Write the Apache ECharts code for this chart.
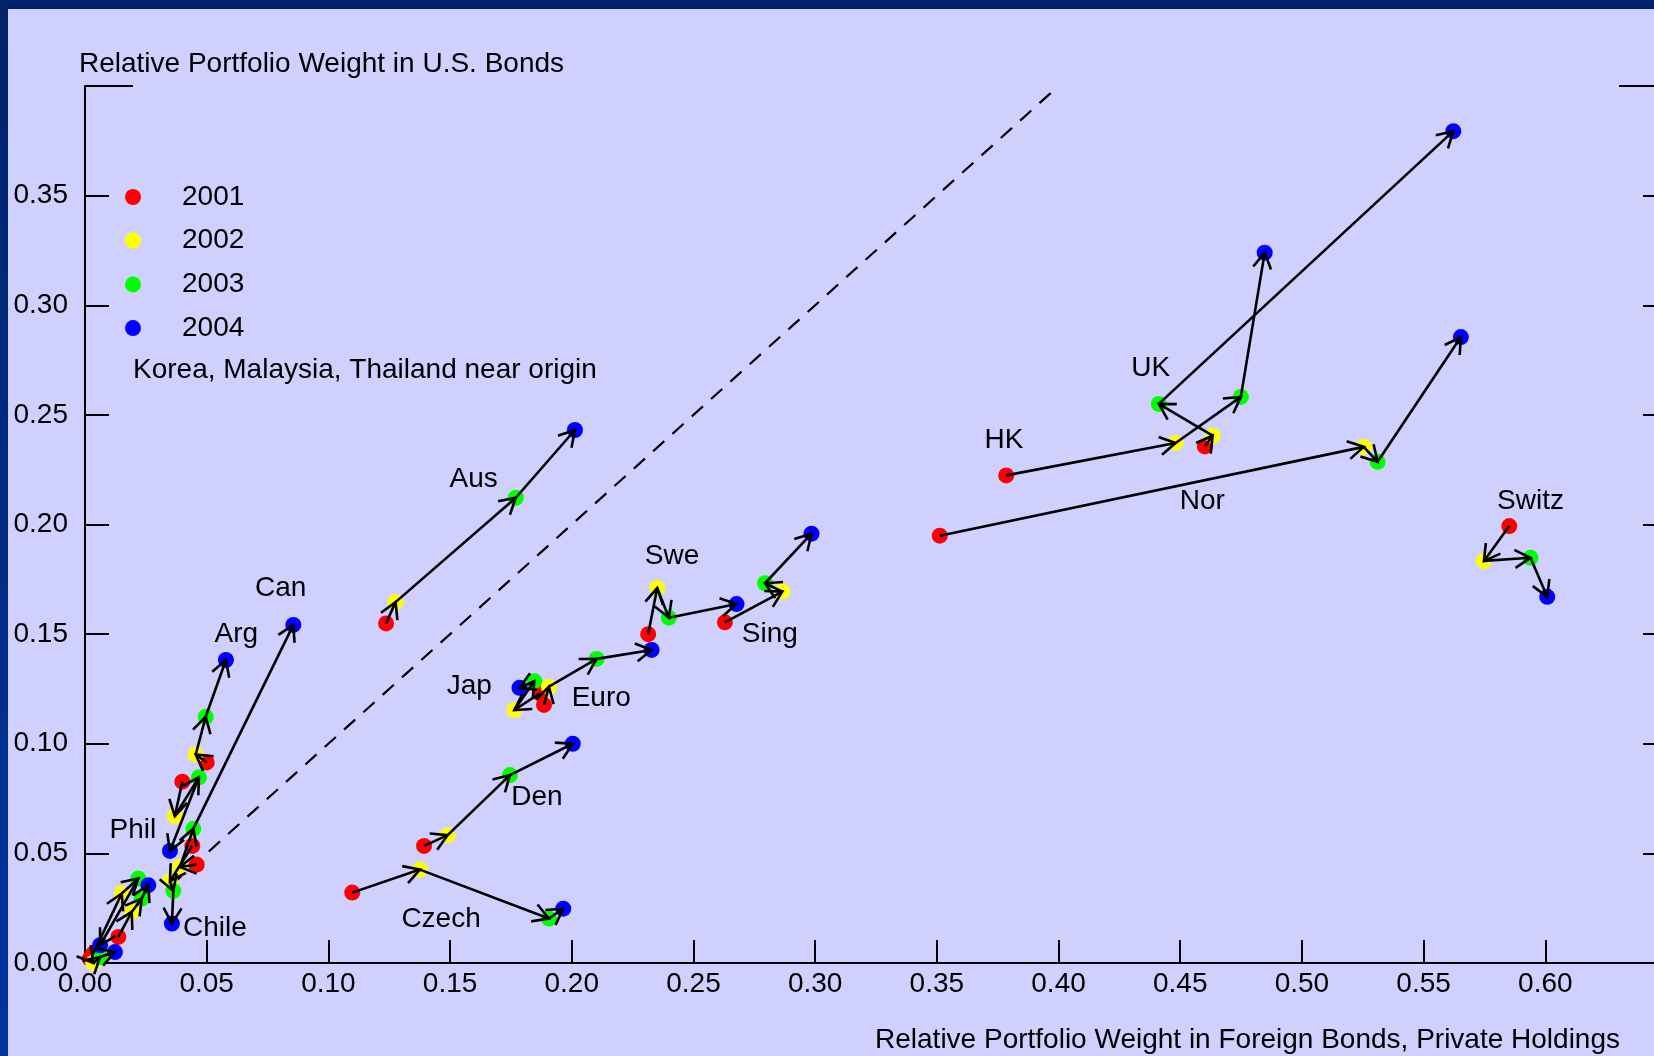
<!DOCTYPE html>
<html>
<head>
<meta charset="utf-8">
<script src="https://cdn.jsdelivr.net/npm/echarts@6/dist/echarts.min.js"></script>
<style>
html,body{margin:0;padding:0;background:#D0D0FF;}
#chart{width:1654px;height:1056px;}
</style>
</head>
<body>
<div id="chart"></div>
<script>
const years = ['2001', '2002', '2003', '2004'];
const yearColors = ['#FF0000', '#FFFF00', '#00FF00', '#0000FF'];
const countries = ['Switz','UK','HK','Nor','Sing','Swe','Euro','Jap','Den','Czech','Aus','Can','Arg','Phil','Chile','Korea','Malaysia','Thailand'];

// x = relative weight in foreign bonds, y = relative weight in U.S. bonds
const x2001 = [0.5852,0.4601,0.3785,0.3512,0.2629,0.2314,0.1886,0.1869,0.1393,0.1098,0.1237,0.0459,0.0500,0.0400,0.0441,0.0137,0.0034,0.0020];
const y2001 = [0.1993,0.2356,0.2224,0.1949,0.1554,0.1500,0.1177,0.1230,0.0534,0.0321,0.1549,0.0449,0.0915,0.0827,0.0534,0.0119,0.0043,0.0020];
const x2002 = [0.5748,0.4633,0.4481,0.5254,0.2865,0.2351,0.1906,0.1764,0.1490,0.1376,0.1276,0.0390,0.0455,0.0369,0.0349,0.0192,0.0151,0.0034];
const y2002 = [0.1834,0.2405,0.2372,0.2354,0.1694,0.1710,0.1260,0.1154,0.0583,0.0426,0.1646,0.0438,0.0951,0.0670,0.0373,0.0233,0.0317,0.0000];
const x2003 = [0.5939,0.4412,0.4749,0.5311,0.2794,0.2399,0.2102,0.1846,0.1746,0.1906,0.1770,0.0445,0.0496,0.0468,0.0363,0.0233,0.0219,0.0062];
const y2003 = [0.1848,0.2550,0.2582,0.2286,0.1732,0.1575,0.1387,0.1285,0.0857,0.0203,0.2122,0.0612,0.1123,0.0847,0.0329,0.0294,0.0385,0.0027];
const x2004 = [0.6008,0.5622,0.4847,0.5653,0.2985,0.2677,0.2328,0.1785,0.2004,0.1965,0.2013,0.0856,0.0579,0.0349,0.0357,0.0260,0.0062,0.0123];
const y2004 = [0.1670,0.3794,0.3240,0.2855,0.1958,0.1637,0.1428,0.1255,0.1000,0.0248,0.2431,0.1542,0.1382,0.0511,0.0180,0.0355,0.0081,0.0050];

// country name annotations (anchored in data units)
const labelNames = ['Aus','Can','Arg','Phil','Chile','Jap','Euro','Den','Czech','Swe','Sing','HK','UK','Nor','Switz'];
const labelX = [0.1597,0.0804,0.0622,0.0197,0.0534,0.1579,0.2121,0.1857,0.1463,0.2412,0.2814,0.3776,0.4379,0.4591,0.5939];
const labelY = [0.2204,0.1708,0.1501,0.0606,0.0158,0.1260,0.1207,0.0755,0.0201,0.1857,0.1501,0.2382,0.2711,0.2108,0.2104];

// 45-degree reference line
const diagX = [0.035, 0.40];
const diagY = [0.035, 0.40];

const xs = [x2001, x2002, x2003, x2004];
const ys = [y2001, y2002, y2003, y2004];

const FONT = 'Liberation Sans, Arial, sans-serif';
const FS = 28;

const arrowData = [];
countries.forEach((c, i) => {
  for (let k = 0; k < 3; k++) {
    arrowData.push([xs[k][i], ys[k][i], xs[k + 1][i], ys[k + 1][i]]);
  }
});

function renderArrow(params, api) {
  const p1 = api.coord([api.value(0), api.value(1)]);
  const p2 = api.coord([api.value(2), api.value(3)]);
  const ang = Math.atan2(p2[1] - p1[1], p2[0] - p1[0]);
  const L = 18, A = Math.PI / 6;
  const w1 = [p2[0] - L * Math.cos(ang - A), p2[1] - L * Math.sin(ang - A)];
  const w2 = [p2[0] - L * Math.cos(ang + A), p2[1] - L * Math.sin(ang + A)];
  return {
    type: 'group',
    children: [
      { type: 'line', shape: { x1: p1[0], y1: p1[1], x2: p2[0], y2: p2[1] }, style: { stroke: '#000', lineWidth: 2.6 } },
      { type: 'polyline', shape: { points: [w1, p2, w2] }, style: { stroke: '#000', lineWidth: 2.6, fill: null } }
    ]
  };
}

function renderLabel(params, api) {
  const p = api.coord([api.value(0), api.value(1)]);
  return {
    type: 'text',
    x: p[0], y: p[1],
    style: { text: labelNames[params.dataIndex], fill: '#000', font: FS + 'px ' + FONT, align: 'center', verticalAlign: 'middle' }
  };
}

const chart = echarts.init(document.getElementById('chart'), null, { renderer: 'canvas' });

const series = years.map((yr, k) => ({
  name: yr,
  type: 'scatter',
  symbol: 'circle',
  symbolSize: 16,
  itemStyle: { color: yearColors[k], opacity: 1 },
  z: 2,
  data: countries.map((c, i) => [xs[k][i], ys[k][i]])
}));

series.push({
  name: 'diag',
  type: 'line',
  data: diagX.map((v, i) => [v, diagY[i]]),
  symbol: 'none',
  lineStyle: { color: '#000', width: 2.2, type: [15, 11] },
  z: 1
});

series.push({
  name: 'arrows',
  type: 'custom',
  renderItem: renderArrow,
  data: arrowData,
  encode: { x: [0, 2], y: [1, 3] },
  clip: false,
  z: 3
});

series.push({
  name: 'labels',
  type: 'custom',
  renderItem: renderLabel,
  data: labelNames.map((n, i) => [labelX[i], labelY[i]]),
  encode: { x: 0, y: 1 },
  z: 4
});

const option = {
  animation: false,
  backgroundColor: '#D0D0FF',
  textStyle: { fontFamily: FONT },
  grid: { left: 85, top: 86, right: -13, bottom: 93, containLabel: false, outerBoundsMode: 'none' },
  legend: {
    data: years,
    orient: 'vertical',
    left: 125,
    top: 183,
    padding: 0,
    itemWidth: 16,
    itemHeight: 16,
    itemGap: 15.7,
    icon: 'circle',
    selectedMode: false,
    textStyle: { fontSize: FS, fontFamily: FONT, color: '#000', lineHeight: 28, padding: [0, 0, 0, 36] }
  },
  xAxis: {
    type: 'value',
    min: 0, max: 0.65, interval: 0.05,
    axisLine: { show: true, onZero: false, lineStyle: { color: '#000', width: 2 } },
    axisTick: { show: true, inside: true, length: 23, lineStyle: { color: '#000', width: 2 } },
    axisLabel: { fontSize: FS, fontFamily: FONT, color: '#000', margin: 7, formatter: v => v > 0.62 ? '' : v.toFixed(2), showMaxLabel: false },
    splitLine: { show: false }
  },
  yAxis: [{
    type: 'value',
    min: 0, max: 0.40, interval: 0.05,
    axisLine: { show: true, onZero: false, lineStyle: { color: '#000', width: 2 } },
    axisTick: { show: true, inside: true, length: 24, lineStyle: { color: '#000', width: 2 } },
    axisLabel: { fontSize: FS, fontFamily: FONT, color: '#000', margin: 17, formatter: v => v > 0.37 ? '' : v.toFixed(2) },
    splitLine: { show: false }
  }, {
    type: 'value',
    position: 'right',
    min: 0, max: 0.40, interval: 0.05,
    axisLine: { show: true, onZero: false, lineStyle: { color: '#000', width: 2 } },
    axisTick: { show: true, inside: true, length: 24, lineStyle: { color: '#000', width: 2 } },
    axisLabel: { show: false },
    splitLine: { show: false }
  }],
  series: series
};

chart.setOption(option);

// frame decorations computed from the axis scales
const pTL = chart.convertToPixel({ gridIndex: 0 }, [0, 0.40]);
const pTR = chart.convertToPixel({ gridIndex: 0 }, [0.65, 0.40]);

chart.setOption({
  graphic: [
    { type: 'rect', shape: { x: 0, y: 0, width: 1654, height: 9 }, style: { fill: '#00226A' }, z: 100 },
    { type: 'rect', shape: { x: 0, y: 0, width: 8, height: 1056 },
      style: { fill: new echarts.graphic.LinearGradient(0, 0, 0, 1, [{ offset: 0, color: '#00226A' }, { offset: 1, color: '#0035A0' }]) }, z: 100 },
    { type: 'line', shape: { x1: pTL[0], y1: pTL[1], x2: pTL[0] + 48, y2: pTL[1] }, style: { stroke: '#000', lineWidth: 2 }, z: 50 },
    { type: 'line', shape: { x1: pTR[0] - 48, y1: pTR[1], x2: pTR[0], y2: pTR[1] }, style: { stroke: '#000', lineWidth: 2 }, z: 50 },
    { type: 'text', x: 79, y: 64, style: { text: 'Relative Portfolio Weight in U.S. Bonds', font: FS + 'px ' + FONT, fill: '#000', align: 'left', verticalAlign: 'middle' }, z: 50 },
    { type: 'text', x: 1620, y: 1040, style: { text: 'Relative Portfolio Weight in Foreign Bonds, Private Holdings', font: FS + 'px ' + FONT, fill: '#000', align: 'right', verticalAlign: 'middle' }, z: 50 },
    { type: 'text', x: 133, y: 370, style: { text: 'Korea, Malaysia, Thailand near origin', font: FS + 'px ' + FONT, fill: '#000', align: 'left', verticalAlign: 'middle' }, z: 50 }
  ]
});
</script>
</body>
</html>
